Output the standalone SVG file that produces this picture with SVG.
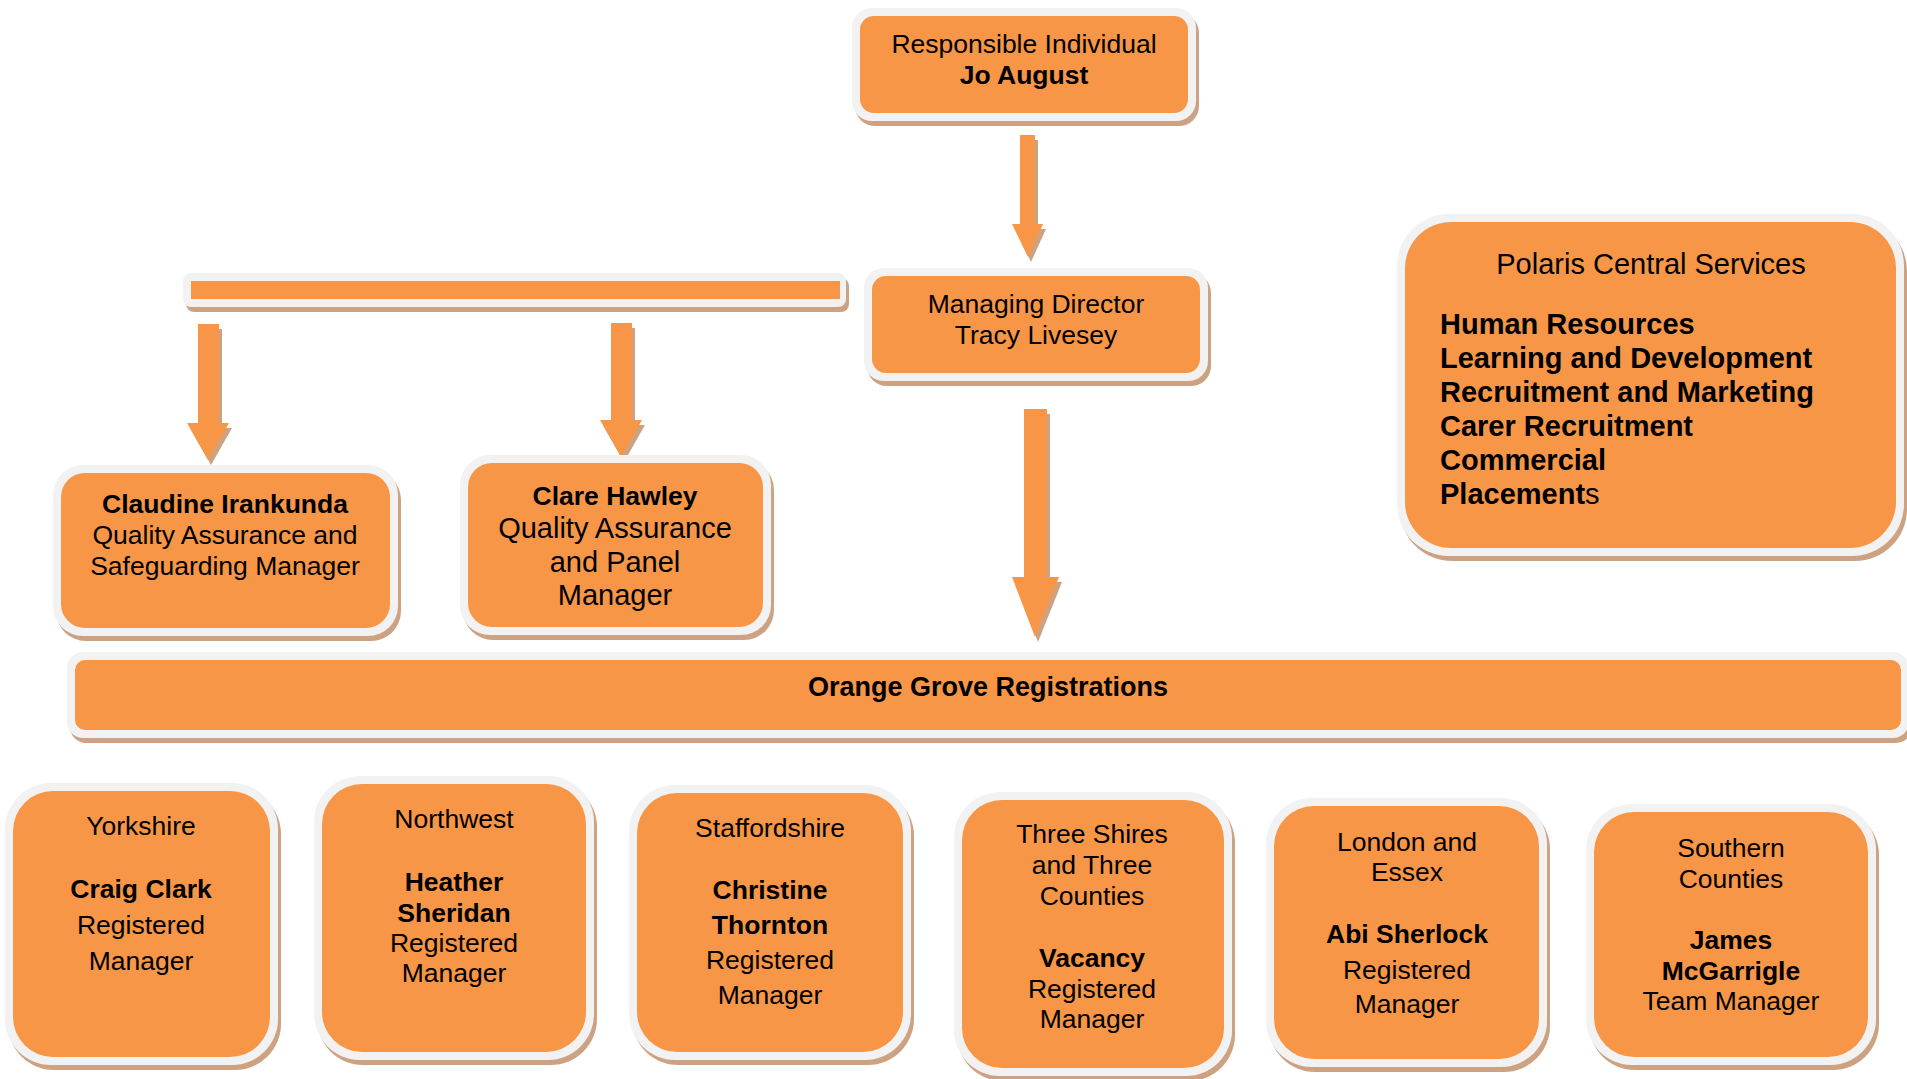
<svg xmlns="http://www.w3.org/2000/svg" width="1907" height="1079" viewBox="0 0 1907 1079">
<style>
.sh{fill:#CDA282}
.bd{fill:#F2F2F2}
.or{fill:#F79646}
text{font-family:"Liberation Sans",Arial,sans-serif;font-size:26.5px;fill:#000;text-anchor:middle}
.b{font-weight:bold}
.lg{font-size:29px}
.lt{text-anchor:start}
</style>
<rect width="1907" height="1079" fill="#fff"/>
<g id="connectors">
  <g id="arrow-ri-md">
    <polygon class="sh" points="1023,140 1038,140 1038,229 1046,229 1031,262 1015,229 1023,229"/>
    <polygon class="or" points="1020,135 1035,135 1035,224 1043,224 1028,257 1012,224 1020,224"/>
  </g>
  <g id="branch-bar">
    <rect class="sh" x="186" y="278" width="663" height="34" rx="8"/>
    <rect class="bd" x="183" y="273" width="663" height="34" rx="8"/>
    <rect class="or" x="191" y="281" width="649" height="18"/>
  </g>
  <g id="arrow-bar-claudine">
    <polygon class="sh" points="201,329 222,329 222,428 232,428 211,465 190,428 201,428"/>
    <polygon class="or" points="198,324 219,324 219,423 229,423 208,460 187,423 198,423"/>
  </g>
  <g id="arrow-bar-clare">
    <polygon class="sh" points="614,328 635,328 635,425 645,425 624,462 603,425 614,425"/>
    <polygon class="or" points="611,323 632,323 632,420 642,420 621,457 600,420 611,420"/>
  </g>
  <g id="arrow-md-og">
    <polygon class="sh" points="1027,414 1050,414 1050,582 1062,582 1038,642 1015,582 1027,582"/>
    <polygon class="or" points="1024,409 1047,409 1047,577 1059,577 1035,637 1012,577 1024,577"/>
  </g>
</g>
<g id="node-ri">
  <rect class="sh" x="855" y="13" width="344" height="113" rx="20"/>
  <rect class="bd" x="852" y="8" width="344" height="113" rx="20"/>
  <rect class="or" x="860" y="16" width="328" height="97" rx="14"/>
  <text x="1024" y="53">Responsible Individual</text>
  <text x="1024" y="84" class="b">Jo August</text>
</g>
<g id="node-md">
  <rect class="sh" x="867" y="273" width="344" height="113" rx="20"/>
  <rect class="bd" x="864" y="268" width="344" height="113" rx="20"/>
  <rect class="or" x="872" y="276" width="328" height="97" rx="14"/>
  <text x="1036" y="313">Managing Director</text>
  <text x="1036" y="344">Tracy Livesey</text>
</g>
<g id="node-claudine">
  <rect class="sh" x="56" y="470" width="345" height="171" rx="30"/>
  <rect class="bd" x="53" y="465" width="345" height="171" rx="30"/>
  <rect class="or" x="61" y="473" width="329" height="155" rx="24"/>
  <text x="225" y="513" class="b">Claudine Irankunda</text>
  <text x="225" y="544">Quality Assurance and</text>
  <text x="225" y="575">Safeguarding Manager</text>
</g>
<g id="node-clare">
  <rect class="sh" x="463" y="460" width="311" height="180" rx="30"/>
  <rect class="bd" x="460" y="455" width="311" height="180" rx="30"/>
  <rect class="or" x="468" y="463" width="295" height="164" rx="24"/>
  <text x="615" y="505" class="b">Clare Hawley</text>
  <text x="615" y="538" class="lg">Quality Assurance</text>
  <text x="615" y="572" class="lg">and Panel</text>
  <text x="615" y="605" class="lg">Manager</text>
</g>
<g id="node-polaris">
  <rect class="sh" x="1400" y="219" width="507" height="342" rx="52"/>
  <rect class="bd" x="1397" y="214" width="507" height="342" rx="52"/>
  <rect class="or" x="1405" y="222" width="491" height="326" rx="46"/>
  <text x="1651" y="274" class="lg">Polaris Central Services</text>
  <text x="1440" y="334" class="lg lt b">Human Resources</text>
  <text x="1440" y="368" class="lg lt b">Learning and Development</text>
  <text x="1440" y="402" class="lg lt b">Recruitment and Marketing</text>
  <text x="1440" y="436" class="lg lt b">Carer Recruitment</text>
  <text x="1440" y="470" class="lg lt b">Commercial</text>
  <text x="1440" y="504" class="lg lt"><tspan class="b">Placement</tspan>s</text>
</g>
<g id="node-og">
  <rect class="sh" x="70" y="657" width="1842" height="86" rx="16"/>
  <rect class="bd" x="67" y="652" width="1842" height="86" rx="16"/>
  <rect class="or" x="75" y="660" width="1826" height="70" rx="10"/>
  <text x="988" y="696" class="b" style="font-size:27px">Orange Grove Registrations</text>
</g>
<g id="node-yorkshire">
  <rect class="sh" x="8" y="788" width="273" height="282" rx="46"/>
  <rect class="bd" x="5" y="783" width="273" height="282" rx="46"/>
  <rect class="or" x="13" y="791" width="257" height="266" rx="40"/>
  <text x="141" y="835">Yorkshire</text>
  <text x="141" y="898" class="b">Craig Clark</text>
  <text x="141" y="934">Registered</text>
  <text x="141" y="970">Manager</text>
</g>
<g id="node-northwest">
  <rect class="sh" x="317" y="781" width="280" height="284" rx="46"/>
  <rect class="bd" x="314" y="776" width="280" height="284" rx="46"/>
  <rect class="or" x="322" y="784" width="264" height="268" rx="40"/>
  <text x="454" y="828">Northwest</text>
  <text x="454" y="891" class="b">Heather</text>
  <text x="454" y="922" class="b">Sheridan</text>
  <text x="454" y="952">Registered</text>
  <text x="454" y="982">Manager</text>
</g>
<g id="node-staffordshire">
  <rect class="sh" x="632" y="790" width="282" height="275" rx="46"/>
  <rect class="bd" x="629" y="785" width="282" height="275" rx="46"/>
  <rect class="or" x="637" y="793" width="266" height="259" rx="40"/>
  <text x="770" y="837">Staffordshire</text>
  <text x="770" y="899" class="b">Christine</text>
  <text x="770" y="934" class="b">Thornton</text>
  <text x="770" y="969">Registered</text>
  <text x="770" y="1004">Manager</text>
</g>
<g id="node-threeshires">
  <rect class="sh" x="957" y="797" width="278" height="284" rx="46"/>
  <rect class="bd" x="954" y="792" width="278" height="284" rx="46"/>
  <rect class="or" x="962" y="800" width="262" height="268" rx="40"/>
  <text x="1092" y="843">Three Shires</text>
  <text x="1092" y="874">and Three</text>
  <text x="1092" y="905">Counties</text>
  <text x="1092" y="967" class="b">Vacancy</text>
  <text x="1092" y="998">Registered</text>
  <text x="1092" y="1028">Manager</text>
</g>
<g id="node-london">
  <rect class="sh" x="1269" y="803" width="281" height="269" rx="46"/>
  <rect class="bd" x="1266" y="798" width="281" height="269" rx="46"/>
  <rect class="or" x="1274" y="806" width="265" height="253" rx="40"/>
  <text x="1407" y="851">London and</text>
  <text x="1407" y="881">Essex</text>
  <text x="1407" y="943" class="b">Abi Sherlock</text>
  <text x="1407" y="979">Registered</text>
  <text x="1407" y="1013">Manager</text>
</g>
<g id="node-southern">
  <rect class="sh" x="1589" y="809" width="290" height="261" rx="46"/>
  <rect class="bd" x="1586" y="804" width="290" height="261" rx="46"/>
  <rect class="or" x="1594" y="812" width="274" height="245" rx="40"/>
  <text x="1731" y="857">Southern</text>
  <text x="1731" y="888">Counties</text>
  <text x="1731" y="949" class="b">James</text>
  <text x="1731" y="980" class="b">McGarrigle</text>
  <text x="1731" y="1010">Team Manager</text>
</g>
</svg>
